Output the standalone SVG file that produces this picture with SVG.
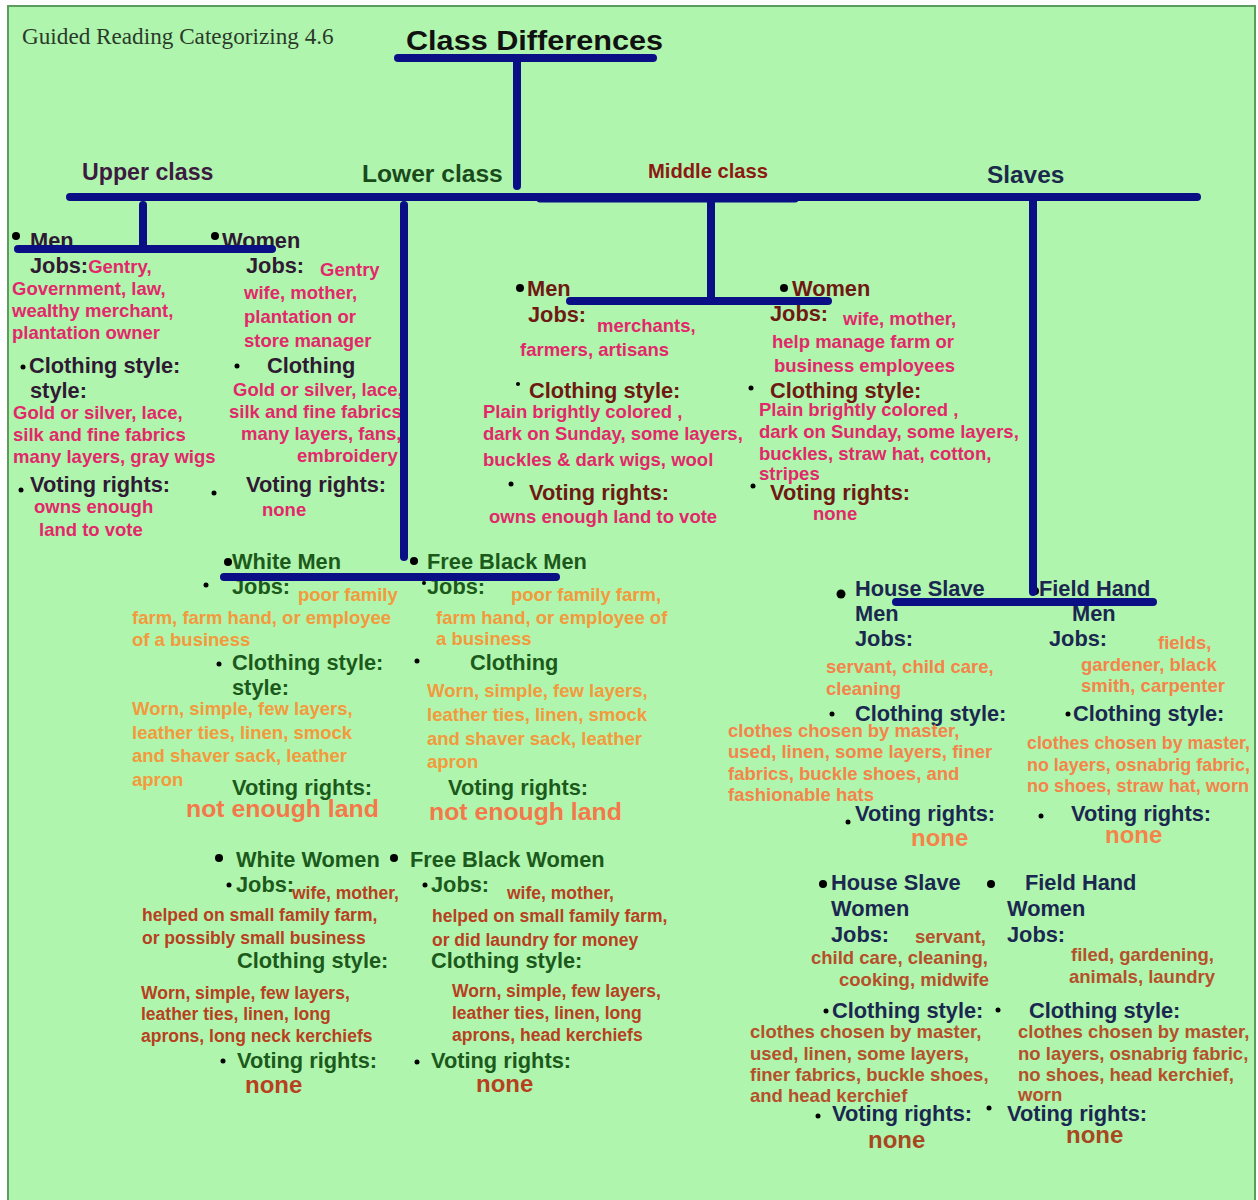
<svg xmlns="http://www.w3.org/2000/svg" width="1258" height="1200" viewBox="0 0 1258 1200">
<style>
text{font-family:"Liberation Sans",Arial,sans-serif;font-weight:bold}
.h{font-size:21.8px}
.d{font-size:18.5px}
.big{font-size:24px}
.up .h{fill:#2e1a32}
.up .d{fill:#e2286a}
.mid .h{fill:#6e1a12}
.mid .d{fill:#e2286a}
.lm .h{fill:#1b5a1b}
.lm .d{fill:#f39a3c}
.lm .big{fill:#f5784a}
.lw .h{fill:#1b5a1b}
.lw .d{fill:#b8401e;font-size:17.5px}
.lw .big{fill:#b8401e}
.sm .h{fill:#1a2850}
.sm .d{fill:#f5844a}
.sm .big{fill:#f5844a}
.sw .h{fill:#1a2850}
.sw .d{fill:#b5502a}
.sw .big{fill:#a8481e}
.b{fill:#000}
.con path{stroke:#0a0f85;stroke-width:8;stroke-linecap:round;fill:none}
</style>
<rect x="0" y="0" width="1258" height="1200" fill="#ffffff"/>
<rect x="8" y="6" width="1247" height="1200" fill="#b0f5ae" stroke="#5c9c5c" stroke-width="2"/>

<g id="header">
<text x="22" y="44" style="font-family:'Liberation Serif','Times New Roman',serif;font-weight:normal;font-size:23.2px" fill="#2a3a2a">Guided Reading Categorizing 4.6</text>
<text x="406" y="50" style="font-size:28px" fill="#111" textLength="257" lengthAdjust="spacingAndGlyphs">Class Differences</text>
</g>

<g id="upper-class"><text x="82" y="180" style="font-size:23.2px" fill="#3d1a40">Upper class</text></g>
<g id="lower-class"><text x="362" y="182" style="font-size:24.6px" fill="#1a4a1a">Lower class</text></g>
<g id="middle-class"><text x="648" y="178" style="font-size:20.2px" fill="#8b1a12">Middle class</text></g>
<g id="slaves"><text x="987" y="183" style="font-size:24.4px" fill="#1a2a4a">Slaves</text></g>

<g id="upper-men" class="up">
<circle class="b" cx="16" cy="236" r="4"/>
<text class="h" x="30" y="248">Men</text>
<text class="h" x="30" y="273">Jobs:<tspan class="d" style="fill:#e2286a;font-size:18.5px">Gentry,</tspan></text>
<text class="d" x="12" y="295">Government, law,</text>
<text class="d" x="12" y="317">wealthy merchant,</text>
<text class="d" x="12" y="339">plantation owner</text>
<circle class="b" cx="23" cy="367" r="2.5"/>
<text class="h" x="29" y="373">Clothing style:</text>
<text class="h" x="30" y="398">style:</text>
<text class="d" x="13" y="419">Gold or silver, lace,</text>
<text class="d" x="13" y="441">silk and fine fabrics</text>
<text class="d" x="13" y="463">many layers, gray wigs</text>
<circle class="b" cx="21" cy="490" r="2.5"/>
<text class="h" x="30" y="492">Voting rights:</text>
<text class="d" x="34" y="513">owns enough</text>
<text class="d" x="39" y="536">land to vote</text>
</g>

<g id="upper-women" class="up">
<circle class="b" cx="215" cy="236" r="4"/>
<text class="h" x="222" y="248">Women</text>
<text class="h" x="246" y="273">Jobs:</text>
<text class="d" x="320" y="276">Gentry</text>
<text class="d" x="244" y="299">wife, mother,</text>
<text class="d" x="244" y="323">plantation or</text>
<text class="d" x="244" y="347">store manager</text>
<circle class="b" cx="237" cy="366" r="2.5"/>
<text class="h" x="267" y="373">Clothing</text>
<text class="d" x="233" y="396">Gold or silver, lace,</text>
<text class="d" x="229" y="418">silk and fine fabrics</text>
<text class="d" x="241" y="440">many layers, fans,</text>
<text class="d" x="297" y="462">embroidery</text>
<circle class="b" cx="214" cy="493" r="2.5"/>
<text class="h" x="246" y="492">Voting rights:</text>
<text class="d" x="262" y="516">none</text>
</g>

<g id="middle-men" class="mid">
<circle class="b" cx="520" cy="288" r="4"/>
<text class="h" x="527" y="296">Men</text>
<text class="h" x="528" y="322">Jobs:</text>
<text class="d" x="597" y="332">merchants,</text>
<text class="d" x="520" y="356">farmers, artisans</text>
<circle class="b" cx="518" cy="384" r="2"/>
<text class="h" x="529" y="398">Clothing style:</text>
<text class="d" x="483" y="418">Plain brightly colored ,</text>
<text class="d" x="483" y="440">dark on Sunday, some layers,</text>
<text class="d" x="483" y="466">buckles &amp; dark wigs, wool</text>
<circle class="b" cx="511" cy="484" r="2.5"/>
<text class="h" x="529" y="500">Voting rights:</text>
<text class="d" x="489" y="523">owns enough land to vote</text>
</g>

<g id="middle-women" class="mid">
<circle class="b" cx="784" cy="288" r="4"/>
<text class="h" x="792" y="296">Women</text>
<text class="h" x="770" y="321">Jobs:</text>
<text class="d" x="843" y="325">wife, mother,</text>
<text class="d" x="772" y="348">help manage farm or</text>
<text class="d" x="774" y="372">business employees</text>
<circle class="b" cx="751" cy="388" r="2.5"/>
<text class="h" x="770" y="398">Clothing style:</text>
<text class="d" x="759" y="416">Plain brightly colored ,</text>
<text class="d" x="759" y="438">dark on Sunday, some layers,</text>
<text class="d" x="759" y="460">buckles, straw hat, cotton,</text>
<text class="d" x="759" y="480">stripes</text>
<circle class="b" cx="753" cy="486" r="2.5"/>
<text class="h" x="770" y="500">Voting rights:</text>
<text class="d" x="813" y="520">none</text>
</g>

<g id="white-men" class="lm">
<circle class="b" cx="228" cy="562" r="4"/>
<text class="h" x="232" y="569">White Men</text>
<circle class="b" cx="206" cy="585" r="2.5"/>
<text class="h" x="232" y="594">Jobs:</text>
<text class="d" x="298" y="601">poor family</text>
<text class="d" x="132" y="624">farm, farm hand, or employee</text>
<text class="d" x="132" y="646">of a business</text>
<circle class="b" cx="219" cy="664" r="2.5"/>
<text class="h" x="232" y="670">Clothing style:</text>
<text class="h" x="232" y="695">style:</text>
<text class="d" x="132" y="715">Worn, simple, few layers,</text>
<text class="d" x="132" y="739">leather ties, linen, smock</text>
<text class="d" x="132" y="762">and shaver sack, leather</text>
<text class="d" x="132" y="786">apron</text>
<text class="h" x="232" y="795">Voting rights:</text>
<text class="big" x="186" y="817" style="font-size:24.8px">not enough land</text>
</g>

<g id="free-black-men" class="lm">
<circle class="b" cx="414" cy="561" r="4"/>
<text class="h" x="427" y="569">Free Black Men</text>
<circle class="b" cx="424" cy="583" r="2"/>
<text class="h" x="427" y="594">Jobs:</text>
<text class="d" x="511" y="601">poor family farm,</text>
<text class="d" x="436" y="624">farm hand, or employee of</text>
<text class="d" x="436" y="645">a business</text>
<circle class="b" cx="417" cy="661" r="2.5"/>
<text class="h" x="470" y="670">Clothing</text>
<text class="d" x="427" y="697">Worn, simple, few layers,</text>
<text class="d" x="427" y="721">leather ties, linen, smock</text>
<text class="d" x="427" y="745">and shaver sack, leather</text>
<text class="d" x="427" y="768">apron</text>
<text class="h" x="448" y="795">Voting rights:</text>
<text class="big" x="429" y="820" style="font-size:24.8px">not enough land</text>
</g>

<g id="white-women" class="lw">
<circle class="b" cx="219" cy="858" r="4"/>
<text class="h" x="236" y="867">White Women</text>
<circle class="b" cx="229" cy="885" r="2.5"/>
<text class="h" x="236" y="892">Jobs:</text>
<text class="d" x="292" y="899">wife, mother,</text>
<text class="d" x="142" y="921">helped on small family farm,</text>
<text class="d" x="142" y="944">or possibly small business</text>
<text class="h" x="237" y="968">Clothing style:</text>
<text class="d" x="141" y="999">Worn, simple, few layers,</text>
<text class="d" x="141" y="1020">leather ties, linen,  long</text>
<text class="d" x="141" y="1042">aprons, long neck kerchiefs</text>
<circle class="b" cx="223" cy="1061" r="2.5"/>
<text class="h" x="237" y="1068">Voting rights:</text>
<text class="big" x="245" y="1093">none</text>
</g>

<g id="free-black-women" class="lw">
<circle class="b" cx="394" cy="858" r="4"/>
<text class="h" x="410" y="867">Free Black Women</text>
<circle class="b" cx="425" cy="885" r="2.5"/>
<text class="h" x="431" y="892">Jobs:</text>
<text class="d" x="507" y="899">wife, mother,</text>
<text class="d" x="432" y="922">helped on small family farm,</text>
<text class="d" x="432" y="946">or did laundry for money</text>
<text class="h" x="431" y="968">Clothing style:</text>
<text class="d" x="452" y="997">Worn, simple, few layers,</text>
<text class="d" x="452" y="1019">leather ties, linen,  long</text>
<text class="d" x="452" y="1041">aprons, head kerchiefs</text>
<circle class="b" cx="417" cy="1062" r="2.5"/>
<text class="h" x="431" y="1068">Voting rights:</text>
<text class="big" x="476" y="1092">none</text>
</g>

<g id="house-slave-men" class="sm">
<circle class="b" cx="841" cy="594" r="4.5"/>
<text class="h" x="855" y="596">House Slave</text>
<text class="h" x="855" y="621">Men</text>
<text class="h" x="855" y="646">Jobs:</text>
<text class="d" x="826" y="673">servant, child care,</text>
<text class="d" x="826" y="695">cleaning</text>
<circle class="b" cx="832" cy="714" r="2.5"/>
<text class="h" x="855" y="721">Clothing style:</text>
<text class="d" x="728" y="737">clothes chosen by master,</text>
<text class="d" x="728" y="758">used, linen, some layers, finer</text>
<text class="d" x="728" y="780">fabrics, buckle shoes, and</text>
<text class="d" x="728" y="801">fashionable hats</text>
<circle class="b" cx="848" cy="822" r="2.5"/>
<text class="h" x="855" y="821">Voting rights:</text>
<text class="big" x="911" y="846">none</text>
</g>

<g id="field-hand-men" class="sm">
<circle class="b" cx="1035" cy="591" r="4"/>
<text class="h" x="1039" y="596">Field Hand</text>
<text class="h" x="1072" y="621">Men</text>
<text class="h" x="1049" y="646">Jobs:</text>
<text class="d" x="1158" y="649">fields,</text>
<text class="d" x="1081" y="671">gardener, black</text>
<text class="d" x="1081" y="692">smith, carpenter</text>
<circle class="b" cx="1068" cy="714" r="2.5"/>
<text class="h" x="1073" y="721">Clothing style:</text>
<text class="d" x="1027" y="749" textLength="223" lengthAdjust="spacingAndGlyphs">clothes chosen by master,</text>
<text class="d" x="1027" y="771" textLength="223" lengthAdjust="spacingAndGlyphs">no layers, osnabrig fabric,</text>
<text class="d" x="1027" y="792" textLength="222" lengthAdjust="spacingAndGlyphs">no shoes, straw hat, worn</text>
<circle class="b" cx="1041" cy="816" r="2.5"/>
<text class="h" x="1071" y="821">Voting rights:</text>
<text class="big" x="1105" y="843">none</text>
</g>

<g id="house-slave-women" class="sw">
<circle class="b" cx="823" cy="884" r="4"/>
<text class="h" x="831" y="890">House Slave</text>
<text class="h" x="831" y="916">Women</text>
<text class="h" x="831" y="942">Jobs:</text>
<text class="d" x="915" y="943">servant,</text>
<text class="d" x="811" y="964">child care, cleaning,</text>
<text class="d" x="839" y="986">cooking, midwife</text>
<circle class="b" cx="826" cy="1011" r="2.5"/>
<text class="h" x="832" y="1018">Clothing style:</text>
<text class="d" x="750" y="1038">clothes chosen by master,</text>
<text class="d" x="750" y="1060">used, linen, some layers,</text>
<text class="d" x="750" y="1081">finer fabrics, buckle shoes,</text>
<text class="d" x="750" y="1102">and head kerchief</text>
<circle class="b" cx="818" cy="1116" r="2.5"/>
<text class="h" x="832" y="1121">Voting rights:</text>
<text class="big" x="868" y="1148">none</text>
</g>

<g id="field-hand-women" class="sw">
<circle class="b" cx="991" cy="884" r="4"/>
<text class="h" x="1025" y="890">Field Hand</text>
<text class="h" x="1007" y="916">Women</text>
<text class="h" x="1007" y="942">Jobs:</text>
<text class="d" x="1071" y="961">filed, gardening,</text>
<text class="d" x="1069" y="983">animals, laundry</text>
<circle class="b" cx="998" cy="1010" r="2.5"/>
<text class="h" x="1029" y="1018">Clothing style:</text>
<text class="d" x="1018" y="1038">clothes chosen by master,</text>
<text class="d" x="1018" y="1060">no layers, osnabrig fabric,</text>
<text class="d" x="1018" y="1081">no shoes, head kerchief,</text>
<text class="d" x="1018" y="1101">worn</text>
<circle class="b" cx="989" cy="1108" r="2.5"/>
<text class="h" x="1007" y="1121">Voting rights:</text>
<text class="big" x="1066" y="1143">none</text>
</g>

<g id="connectors" class="con">
<path d="M398,58 H653"/>
<path d="M517,60 V186"/>
<path d="M70,197 H1197"/>
<path d="M540,199 H795" style="stroke-width:7"/>
<path d="M143,205 V248"/>
<path d="M18,249 H272"/>
<path d="M404,205 V557"/>
<path d="M224,577 H556"/>
<path d="M711,200 V298"/>
<path d="M570,301 H828"/>
<path d="M1033,200 V592"/>
<path d="M896,602 H1153"/>
</g>
</svg>
